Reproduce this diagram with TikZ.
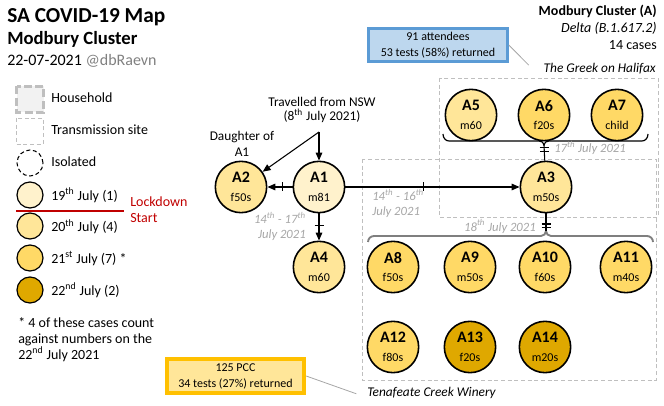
\documentclass[tikz,border=0pt]{standalone}
\usepackage{fontspec}
\setmainfont{Carlito}
\usetikzlibrary{arrows.meta}

\definecolor{d19}{HTML}{FFF2CC}
\definecolor{d20}{HTML}{FFE699}
\definecolor{d21}{HTML}{FFD966}
\definecolor{d22}{HTML}{DFA800}
\definecolor{sitegray}{HTML}{BFBFBF}
\definecolor{labelgray}{HTML}{A6A6A6}
\definecolor{bracegray}{HTML}{7F7F7F}
\definecolor{lockred}{HTML}{C00000}
\definecolor{infoblue}{HTML}{BDD7EE}
\definecolor{infoedge}{HTML}{5B9BD5}
\definecolor{pccedge}{HTML}{FFC000}

\newcommand{\casetext}[2]{{\fontsize{12}{12}\selectfont\bfseries #1}\\[2pt]{\fontsize{9}{10}\selectfont #2}}

\begin{document}
\begin{tikzpicture}[x=0.75pt,y=0.75pt,
  casenode/.style={circle,draw=black,line width=1.2pt,minimum size=38.5pt,align=center},
  arr/.style={-{Triangle[length=6pt,width=5pt]},line width=0.8pt},
  tickline/.style={line width=0.8pt},
  site/.style={draw=sitegray,dash pattern=on 3pt off 2pt,line width=0.7pt},
  datelbl/.style={font=\fontsize{9.5}{11.25}\selectfont\itshape,text=labelgray},
  txt/.style={font=\fontsize{10.5}{13}\selectfont},
  callout/.style={draw=labelgray,line width=0.6pt}]
\tikzstyle{every node}+=[inner sep=0pt]
\useasboundingbox (0,0) rectangle (664,-406);

% heading
\node [anchor=base west,font=\fontsize{16}{18}\selectfont\bfseries] (title) at (7,-23) {SA COVID-19 Map};
\node [anchor=base west,font=\fontsize{14}{16}\selectfont\bfseries] (subtitle) at (7,-45) {Modbury Cluster};
\node [anchor=base west,font=\fontsize{12}{14}\selectfont] (stamp) at (7,-66) {22-07-2021 \textcolor{gray}{@dbRaevn}};
\node [anchor=base east,txt,font=\fontsize{10.5}{13}\selectfont\bfseries] (cluster) at (657,-16) {Modbury Cluster (A)};
\node [anchor=base east,txt,font=\fontsize{10.5}{13}\selectfont\itshape] (variant) at (657,-33) {Delta (B.1.617.2)};
\node [anchor=base east,txt] (count) at (657,-50) {14 cases};

% legend
\draw [draw=sitegray,fill=black!5,line width=2.2pt,dash pattern=on 6pt off 2.5pt] (16.5,-86.5) rectangle (43.5,-112.5);
\node [anchor=base west,txt] (keyhouse) at (51,-103) {Household};
\draw [site] (16,-118) rectangle (43,-144);
\node [anchor=base west,txt] (keysite) at (51,-135) {Transmission site};
\draw [black,line width=0.8pt,dash pattern=on 3pt off 2pt] (30,-163) circle (13);
\node [anchor=base west,txt] (keyiso) at (51,-167) {Isolated};
\draw [black,fill=d19,line width=0.9pt] (30,-195) circle (13);
\node [anchor=base west,txt] (key19) at (51,-200) {19\textsuperscript{th} July (1)};
\draw [lockred,line width=0.8pt] (16,-211) -- (124,-211);
\node [anchor=base west,txt,text=lockred] (lock1) at (130,-207) {Lockdown};
\node [anchor=base west,txt,text=lockred] (lock2) at (130,-223) {Start};
\draw [black,fill=d20,line width=0.9pt] (30,-226) circle (13);
\node [anchor=base west,txt] (key20) at (51,-232) {20\textsuperscript{th} July (4)};
\draw [black,fill=d21,line width=0.9pt] (30,-258) circle (13);
\node [anchor=base west,txt] (key21) at (51,-263) {21\textsuperscript{st} July (7) *};
\draw [black,fill=d22,line width=0.9pt] (30,-290) circle (13);
\node [anchor=base west,txt] (key22) at (51,-295) {22\textsuperscript{nd} July (2)};
\node [anchor=base west,txt] (note1) at (18,-327) {* 4 of these cases count};
\node [anchor=base west,txt] (note2) at (18,-343) {against numbers on the};
\node [anchor=base west,txt] (note3) at (18,-359) {22\textsuperscript{nd} July 2021};

% sites
\draw [site] (439,-78) rectangle (658,-217);
\draw [site] (362,-159) rectangle (656,-380);
\node [anchor=base east,font=\fontsize{10}{12}\selectfont\itshape] (greeklbl) at (656,-73) {The Greek on Halifax};
\node [anchor=base west,font=\fontsize{10}{12}\selectfont\itshape] (winerylbl) at (367,-396) {Tenafeate Creek Winery};
\node [draw=infoedge,fill=infoblue,line width=2.2pt,minimum width=104pt,minimum height=24.75pt,align=center,font=\fontsize{9}{12}\selectfont] (greekinfo) at (438,-45) {91 attendees\\53 tests (58\%) returned};
\node [draw=pccedge,fill=d20,line width=3pt,minimum width=103pt,minimum height=25.5pt,align=center,font=\fontsize{9}{12}\selectfont] (pccinfo) at (235.5,-376) {125 PCC\\34 tests (27\%) returned};
\draw [callout] (greekinfo.east) -- ([xshift=-11pt,yshift=3pt]greeklbl.west);
\draw [callout] (pccinfo.east) -- ([xshift=-8pt,yshift=-1pt]winerylbl.west);

% cases
\node [casenode,fill=d19] (A1) at (319,-187) {\casetext{A1}{m81}};
\node [casenode,fill=d20] (A2) at (241,-187) {\casetext{A2}{f50s}};
\node [casenode,fill=d20] (A3) at (546,-187) {\casetext{A3}{m50s}};
\node [casenode,fill=d20] (A4) at (319,-267) {\casetext{A4}{m60}};
\node [casenode,fill=d20] (A5) at (471,-115) {\casetext{A5}{m60}};
\node [casenode,fill=d21] (A6) at (544,-115) {\casetext{A6}{f20s}};
\node [casenode,fill=d21] (A7) at (617,-115) {\casetext{A7}{child}};
\node [casenode,fill=d21] (A8) at (393,-267) {\casetext{A8}{f50s}};
\node [casenode,fill=d21] (A9) at (470,-267) {\casetext{A9}{m50s}};
\node [casenode,fill=d21] (A10) at (545,-267) {\casetext{A10}{f60s}};
\node [casenode,fill=d21] (A11) at (626,-267) {\casetext{A11}{m40s}};
\node [casenode,fill=d21] (A12) at (393,-347) {\casetext{A12}{f80s}};
\node [casenode,fill=d22] (A13) at (470,-347) {\casetext{A13}{f20s}};
\node [casenode,fill=d22] (A14) at (545,-347) {\casetext{A14}{m20s}};

% links
\node [align=center,font=\fontsize{10}{10.5}\selectfont] (nswtxt) at (322,-110) {Travelled from NSW\\(8\textsuperscript{th} July 2021)};
\node [align=center,font=\fontsize{10}{11.5}\selectfont] (daughter) at (242,-144) {Daughter of\\A1};
\coordinate (nsw) at (319,-132);
\draw [arr] (nsw) -- (A1);
\draw [arr] (nsw) -- (A2);
\draw [arr] (A1) -- coordinate[pos=0.4] (t12) (A2);
\draw [tickline] (t12) +(0,4.5) -- +(0,-4.5);
\draw [arr] (A1) -- coordinate[pos=0.45] (t13) (A3);
\draw [tickline] (t13) +(0,4.5) -- +(0,-4.5);
\draw [arr] (A1) -- coordinate[pos=0.43] (t14) (A4);
\draw [tickline] (t14) +(-4.5,0) -- +(4.5,0);
\node [anchor=west,align=left,datelbl] (d13) at (372,-203) {14\textsuperscript{th} - 16\textsuperscript{th}\\July 2021};
\node [anchor=east,align=right,datelbl] (d14) at (306,-226) {14\textsuperscript{th} - 17\textsuperscript{th}\\July 2021};

% brace for the Greek
\coordinate (gb) at (544,-145);
\draw [black,line width=0.9pt] (443,-134) to[out=-90,in=180] (449,-141) -- (539,-141) to[out=0,in=90] (gb) to[out=90,in=180] (549,-141) -- (642,-141) to[out=0,in=-90] (648,-134);
\draw [tickline] (gb) -- coordinate[pos=0.15] (g1) coordinate[pos=0.4] (g2) (A3);
\draw [tickline] (g1) +(-4.5,0) -- +(4.5,0);
\draw [tickline] (g2) +(-4.5,0) -- +(4.5,0);
\node [anchor=base west,datelbl] (d3) at (554,-153) {17\textsuperscript{th} July 2021};

% brace for the winery
\coordinate (lb) at (546,-231);
\draw [bracegray,line width=1.4pt] (368,-242) to[out=90,in=180] (374,-236) -- (541,-236) to[out=0,in=-90] (lb) to[out=-90,in=180] (551,-236) -- (647,-236) to[out=0,in=90] (653,-242);
\draw [tickline] (A3) -- coordinate[pos=0.6] (w1) coordinate[pos=0.78] (w2) (lb);
\draw [tickline] (w1) +(-4.5,0) -- +(4.5,0);
\draw [tickline] (w2) +(-4.5,0) -- +(4.5,0);
\node [anchor=base east,datelbl] (d8) at (536,-231) {18\textsuperscript{th} July 2021};
\end{tikzpicture}
\end{document}
